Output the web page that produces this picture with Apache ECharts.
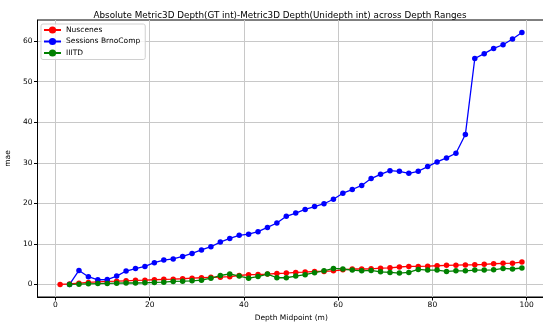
<!DOCTYPE html>
<html><head><meta charset="utf-8">
<script src="https://cdn.jsdelivr.net/npm/echarts@6/dist/echarts.min.js"></script>
<style>html,body{margin:0;padding:0;background:#fff}#c{width:543px;height:322px}</style>
</head><body><div id="c"></div>
<script>
const xNuscenes = [1,3,5,7,9,11,13,15,17,19,21,23,25,27,29,31,33,35,37,39,41,43,45,47,49,51,53,55,57,59,61,63,65,67,69,71,73,75,77,79,81,83,85,87,89,91,93,95,97,99];
const nuscenes = [0,0.1,0.3,0.5,0.65,0.75,0.8,0.9,1.0,1.05,1.15,1.25,1.3,1.4,1.55,1.65,1.75,1.8,1.9,2.2,2.4,2.45,2.55,2.7,2.8,2.95,3.05,3.2,3.2,3.35,3.6,3.8,3.8,3.85,4.0,4.1,4.3,4.45,4.45,4.5,4.6,4.7,4.75,4.8,4.85,4.95,5.1,5.2,5.25,5.5];
const xOthers = [3,5,7,9,11,13,15,17,19,21,23,25,27,29,31,33,35,37,39,41,43,45,47,49,51,53,55,57,59,61,63,65,67,69,71,73,75,77,79,81,83,85,87,89,91,93,95,97,99];
const brno = [0,3.45,1.9,1.15,1.2,2.05,3.3,3.9,4.45,5.35,6.0,6.3,6.9,7.65,8.5,9.3,10.45,11.35,12.1,12.4,13.0,14.05,15.15,16.8,17.6,18.5,19.2,19.9,21.0,22.5,23.4,24.4,26.1,27.15,28.05,27.9,27.4,27.9,29.05,30.2,31.2,32.35,36.95,55.7,56.9,58.2,59.1,60.5,62.1];
const iiitd = [0,0.05,0.15,0.2,0.25,0.3,0.35,0.35,0.4,0.5,0.55,0.75,0.8,0.9,1.05,1.55,2.2,2.6,2.05,1.55,1.95,2.55,1.65,1.65,2.05,2.4,2.9,3.35,3.95,3.8,3.55,3.35,3.45,3.1,2.95,2.8,2.95,3.7,3.55,3.55,3.2,3.35,3.35,3.55,3.55,3.6,3.95,3.8,4.05];
const xTicks = [0,20,40,60,80,100];
const yTicks = [0,10,20,30,40,50,60];

const zip = (xs, ys) => xs.map((x, i) => [x, ys[i]]);
const font = 'DejaVu Sans';
const chart = echarts.init(document.getElementById('c'), null, {renderer: 'canvas'});
function mk(name, xs, ys, color) {
  return {name, type: 'line', data: zip(xs, ys), symbol: 'circle', symbolSize: 5.5,
    itemStyle: {color}, lineStyle: {color, width: 1.3}, animation: false, z: 3};
}
chart.setOption({
  animation: false,
  textStyle: {fontFamily: font},
  title: {text: 'Absolute Metric3D Depth(GT int)-Metric3D Depth(Unidepth int) across Depth Ranges',
    left: 275, textAlign: 'center', top: 6, textStyle: {fontFamily: font, fontSize: 8.8, fontWeight: 'normal', color: '#000'}},
  grid: {left: 37.5, right: -2, top: 20, bottom: 25, show: true, borderColor: '#000', borderWidth: 1,
    backgroundColor: 'transparent', outerBoundsMode: 'none', containLabel: false},
  legend: {orient: 'vertical', left: 41, top: 24, itemWidth: 17, itemHeight: 9, itemGap: 2.5,
    padding: [1.5, 5, 2, 2], borderColor: '#d0d0d0', borderWidth: 1, borderRadius: 2, backgroundColor: 'rgba(255,255,255,0.8)',
    textStyle: {fontFamily: font, fontSize: 7.5, lineHeight: 9, color: '#000'},
    data: ['Nuscenes', 'Sessions BrnoComp', 'IIITD']},
  xAxis: {type: 'value', min: -3.8, max: 103.9, name: 'Depth Midpoint (m)', nameLocation: 'middle', nameGap: 16,
    nameTextStyle: {fontFamily: font, fontSize: 7.5, color: '#000'},
    axisLine: {show: true, onZero: false, lineStyle: {color: '#000'}},
    axisTick: {show: true, length: 3.5, customValues: xTicks, lineStyle: {color: '#000'}},
    axisLabel: {customValues: xTicks, fontSize: 7.5, color: '#000', fontFamily: font, margin: 4},
    splitLine: {show: true, lineStyle: {color: '#c8c8c8', width: 1}}},
  yAxis: {type: 'value', min: -3.1, max: 65.2, name: 'mae', nameLocation: 'middle', nameGap: 19, nameRotate: 90,
    nameTextStyle: {fontFamily: font, fontSize: 7.5, color: '#000'},
    axisLine: {show: true, onZero: false, lineStyle: {color: '#000'}},
    axisTick: {show: true, length: 3.5, customValues: yTicks, lineStyle: {color: '#000'}},
    axisLabel: {customValues: yTicks, fontSize: 7.5, color: '#000', fontFamily: font, margin: 5},
    splitLine: {show: true, lineStyle: {color: '#c8c8c8', width: 1}}},
  series: [
    mk('Nuscenes', xNuscenes, nuscenes, '#ff0000'),
    mk('Sessions BrnoComp', xOthers, brno, '#0000ff'),
    mk('IIITD', xOthers, iiitd, '#008000')
  ]
});
</script></body></html>
